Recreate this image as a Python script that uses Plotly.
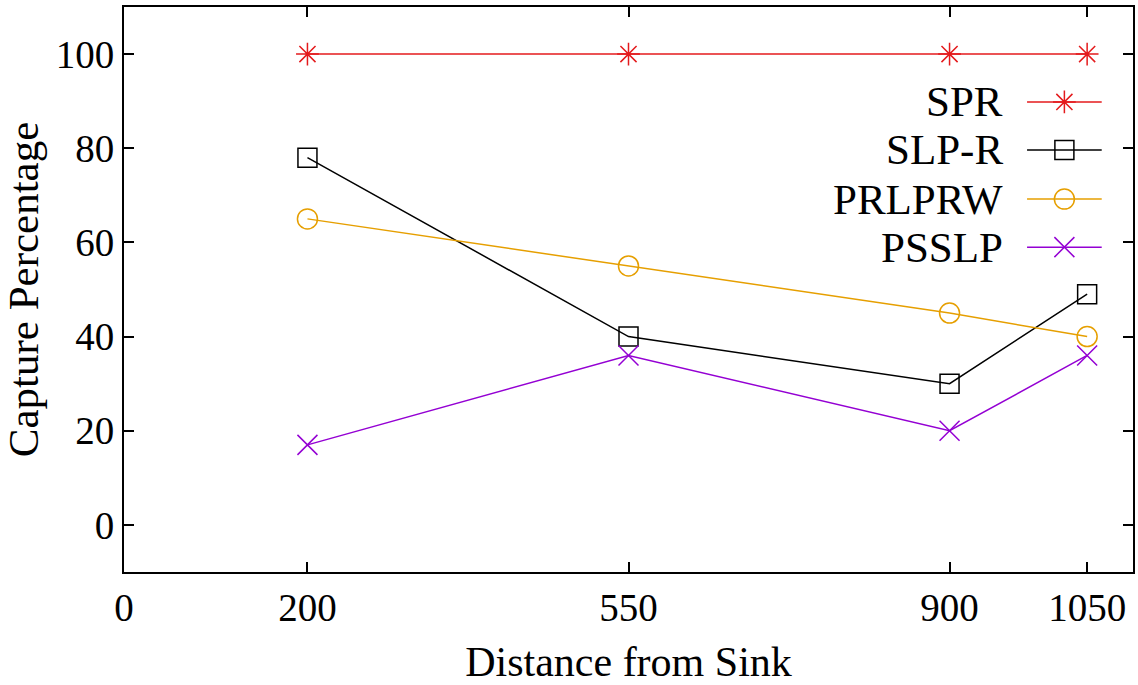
import plotly.graph_objects as go

# Sink distances and capture percentages per routing scheme
distance = [200, 550, 900, 1050]
spr = [100, 100, 100, 100]
slp_r = [78, 40, 30, 49]
prlprw = [65, 55, 45, 40]
psslp = [17, 36, 20, 36]

series_names = ["SPR", "SLP-R", "PRLPRW", "PSSLP"]
series_values = [spr, slp_r, prlprw, psslp]
series_colors = ["#e41a1c", "#000000", "#e69f00", "#9400d3"]
series_symbols = ["asterisk-open", "square-open", "circle-open", "x-thin-open"]
series_sizes = [19, 19, 20, 20]

x_ticks = [0, 200, 550, 900, 1050]
y_ticks = [0, 20, 40, 60, 80, 100]

FONT = "Liberation Serif"

fig = go.Figure()

for name, vals, col, sym, sz in zip(series_names, series_values, series_colors,
                                    series_symbols, series_sizes):
    fig.add_trace(go.Scatter(
        x=distance, y=vals, name=name, mode="lines+markers",
        line=dict(color=col, width=1.5),
        marker=dict(symbol=sym, size=sz, color=col,
                    line=dict(color=col, width=1.5)),
        showlegend=False, cliponaxis=False,
    ))

# Key: label on the left, line sample with marker on the right
key_y = [0.832, 0.747, 0.660, 0.575]
for name, col, sym, sz, ky in zip(series_names, series_colors, series_symbols,
                                  series_sizes, key_y):
    fig.add_trace(go.Scatter(
        x=[0.895, 0.932, 0.969], y=[ky, ky, ky], mode="lines",
        xaxis="x2", yaxis="y2",
        line=dict(color=col, width=1.5),
        showlegend=False, hoverinfo="skip",
    ))
    fig.add_trace(go.Scatter(
        x=[0.932], y=[ky], mode="markers",
        xaxis="x2", yaxis="y2",
        marker=dict(symbol=sym, size=sz, color=col,
                    line=dict(color=col, width=1.5)),
        showlegend=False, hoverinfo="skip",
    ))
    fig.add_annotation(
        x=0.873, y=ky, xref="x2", yref="y2", text=name, showarrow=False,
        xanchor="right", yanchor="middle",
        font=dict(family=FONT, size=43, color="black"),
    )

axis_common = dict(
    showgrid=False, zeroline=False, showline=True, linecolor="black",
    linewidth=2, mirror="ticks", ticks="inside", ticklen=10, tickwidth=1.5,
    tickcolor="black", tickfont=dict(family=FONT, size=39, color="black"),
)

fig.update_layout(
    width=1138, height=685,
    margin=dict(l=124, r=3, t=7, b=113),
    paper_bgcolor="white", plot_bgcolor="white",
    font=dict(family=FONT, color="black"),
    xaxis=dict(range=[0, 1100], tickvals=x_ticks,
               title=dict(text="Distance from Sink", standoff=20,
                          font=dict(family=FONT, size=42, color="black")),
               **axis_common),
    yaxis=dict(range=[-10, 110], tickvals=y_ticks,
               title=dict(text="Capture Percentage", standoff=12,
                          font=dict(family=FONT, size=43, color="black")),
               **axis_common),
    xaxis2=dict(overlaying="x", range=[0, 1], visible=False),
    yaxis2=dict(overlaying="y", range=[0, 1], visible=False),
    showlegend=False,
)

fig.write_html("out.html")
